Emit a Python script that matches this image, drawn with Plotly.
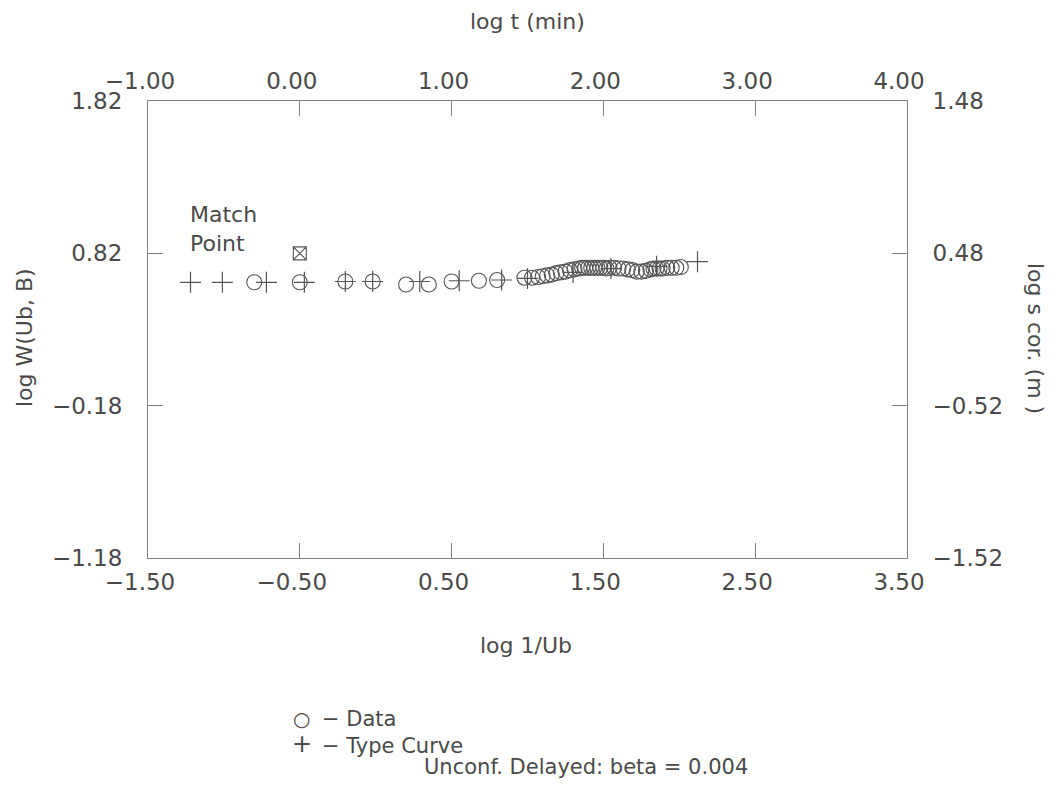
import plotly.graph_objects as go

# ---- data (bottom axis = log 1/Ub, left axis = log W(Ub,B)) ----
data_x = [-0.80, -0.50, -0.20, -0.02, 0.20, 0.35, 0.50, 0.68, 0.80, 0.98,
          1.03, 1.07, 1.10, 1.13, 1.16, 1.19, 1.22, 1.25, 1.28, 1.31,
          1.34, 1.36, 1.38, 1.40, 1.42, 1.44, 1.46, 1.48, 1.50, 1.52,
          1.54, 1.57, 1.60, 1.63, 1.66, 1.69, 1.72, 1.75, 1.78, 1.81,
          1.83, 1.85, 1.87, 1.89, 1.92, 1.95, 1.98, 2.01]
data_y = [0.63, 0.63, 0.635, 0.635, 0.615, 0.615, 0.635, 0.64, 0.645, 0.66,
          0.66, 0.665, 0.67, 0.675, 0.68, 0.69, 0.695, 0.70, 0.71, 0.715,
          0.72, 0.725, 0.725, 0.725, 0.725, 0.725, 0.725, 0.725, 0.725, 0.72,
          0.725, 0.725, 0.72, 0.72, 0.715, 0.71, 0.70, 0.70, 0.705, 0.715,
          0.72, 0.72, 0.72, 0.72, 0.725, 0.725, 0.725, 0.73]

type_x = [-1.22, -1.01, -0.72, -0.47, -0.20, -0.02, 0.29, 0.55, 0.83, 1.00,
          1.30, 1.55, 1.85, 2.12]
type_y = [0.63, 0.63, 0.63, 0.63, 0.635, 0.635, 0.635, 0.64, 0.645, 0.655,
          0.695, 0.72, 0.735, 0.765]

match_x = [-0.50]
match_y = [0.82]

bottom_ticks = [-1.50, -0.50, 0.50, 1.50, 2.50, 3.50]
top_ticks = [-1.00, 0.00, 1.00, 2.00, 3.00, 4.00]
left_ticks = [-1.18, -0.18, 0.82, 1.82]
right_ticks = [-1.52, -0.52, 0.48, 1.48]

# ---- styling ----
TXT = "#4a4a4a"
LINE = "#808080"
MK = "#555555"
FONT = "DejaVu Sans"
OFF = 8                      # default page body margin
W, H = 1057 - OFF, 786 - OFF
# plot box in screen pixels
SL, SR, ST, SB = 148, 907, 101, 558
L, R, T, B = SL - OFF, SR - OFF, ST - OFF, SB - OFF


def fmt(v):
    s = f"{abs(v):.2f}"
    return ("\u2212" + s if v < 0 else s)


def px(xs):
    return (xs - SL) / (SR - SL)


def py(ys):
    return (SB - ys) / (SB - ST)


fig = go.Figure()
fig.add_trace(go.Scatter(x=data_x, y=data_y, mode="markers", showlegend=False,
                         marker=dict(symbol="circle-open", size=15, color=MK,
                                     line=dict(width=1.1, color=MK))))
fig.add_trace(go.Scatter(x=type_x, y=type_y, mode="markers", showlegend=False,
                         marker=dict(symbol="cross-thin", size=15, color=MK,
                                     line=dict(width=1.2, color=MK))))
fig.add_trace(go.Scatter(x=match_x, y=match_y, mode="markers", showlegend=False,
                         marker=dict(symbol="square-x-open", size=13, color=MK,
                                     line=dict(width=1.1, color=MK))))
# secondary axes (top: log t, right: log s cor.)
fig.add_trace(go.Scatter(x=[], y=[], xaxis="x2", yaxis="y2", showlegend=False,
                         hoverinfo="skip"))

axcommon = dict(showgrid=False, zeroline=False, showline=True, linecolor=LINE,
                linewidth=1, ticks="inside", ticklen=15, tickwidth=1,
                tickcolor=LINE, tickfont=dict(family=FONT, size=23, color=TXT),
                tickmode="array", fixedrange=True)

fig.update_layout(
    width=W, height=H, paper_bgcolor="white", plot_bgcolor="white",
    margin=dict(l=L, r=W - R, t=T, b=H - B),
    xaxis=dict(range=[-1.5, 3.5], tickvals=bottom_ticks,
               ticktext=[fmt(v) for v in bottom_ticks],
               ticklabelstandoff=3, ticklabelshift=-8, **axcommon),
    xaxis2=dict(range=[-1.0, 4.0], overlaying="x", side="top",
                tickvals=top_ticks, ticktext=[fmt(v) for v in top_ticks],
                ticklabelstandoff=2, ticklabelshift=-8, **axcommon),
    yaxis=dict(range=[-1.18, 1.82], tickvals=left_ticks,
               ticktext=[fmt(v) for v in left_ticks],
               ticklabelstandoff=20, **axcommon),
    yaxis2=dict(range=[-1.52, 1.48], overlaying="y", side="right",
                tickvals=right_ticks, ticktext=[fmt(v) for v in right_ticks],
                ticklabelstandoff=20, **axcommon),
)

ann = []


def add(text, xs, ys, size=22, angle=0, xanchor="center", align="center"):
    ann.append(dict(text=text, x=px(xs), y=py(ys), xref="paper", yref="paper",
                    showarrow=False, textangle=angle, xanchor=xanchor,
                    yanchor="middle", align=align,
                    font=dict(family=FONT, size=size, color=TXT)))


add("log t (min)", 527, 22)
add("log 1/Ub", 526, 645)
add("log W(Ub, B)", 24, 338, angle=-90)
add("log s cor. (m )", 1036, 338, angle=90)
add("Match<br>Point", 188, 229, xanchor="left", align="left")
add("\u25cb", 301, 719, size=20)
add("\u2212 Data", 320, 719, size=21, xanchor="left")
add("+", 302, 744, size=24)
add("\u2212 Type Curve", 320, 746, size=21, xanchor="left")
add("Unconf. Delayed: beta = 0.004", 422, 767, size=21, xanchor="left")

fig.update_layout(annotations=ann)
fig.write_html("out.html")
